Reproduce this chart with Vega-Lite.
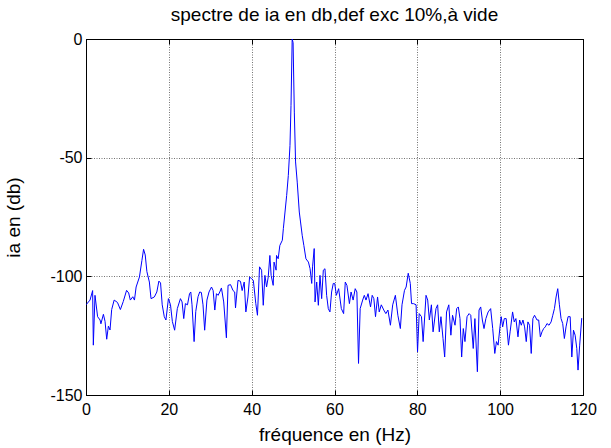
{
  "$schema": "https://vega.github.io/schema/vega-lite/v6.json",
  "autosize": "none",
  "width": 497,
  "height": 356,
  "padding": {"left": 86, "top": 39, "right": 28, "bottom": 53},
  "background": "white",
  "title": {"text": "spectre de ia en db,def exc 10%,à vide", "font": "Liberation Sans", "fontSize": 19, "fontWeight": "normal", "color": "black", "offset": 6},
  "config": {
    "view": {"stroke": "black", "strokeWidth": 1},
    "axis": {"labelFont": "Liberation Sans", "labelFontSize": 16, "labelColor": "black", "titleFont": "Liberation Sans", "titleFontSize": 19, "titleFontWeight": "normal", "titleColor": "black", "domainColor": "black", "tickColor": "black", "gridColor": "#000000", "gridOpacity": 0.55, "gridDash": [1, 1.5], "gridWidth": 1}
  },
  "data": {"values": [
    {"f": 0, "db": -112}, {"f": 0.97, "db": -110}, {"f": 1.6, "db": -106}, {"f": 1.77, "db": -129}, {"f": 2.17, "db": -108}, {"f": 2.8, "db": -117}, {"f": 3.4, "db": -118.4}, {"f": 3.6, "db": -120}, {"f": 4.2, "db": -116}, {"f": 4.6, "db": -119}, {"f": 5.0, "db": -126.5}, {"f": 5.4, "db": -121}, {"f": 5.8, "db": -122.6}, {"f": 6.2, "db": -114}, {"f": 6.8, "db": -110}, {"f": 7.6, "db": -111}, {"f": 8.3, "db": -114}, {"f": 9.0, "db": -110.6}, {"f": 9.8, "db": -105.9}, {"f": 10.3, "db": -107}, {"f": 10.7, "db": -110}, {"f": 11.3, "db": -108.6}, {"f": 11.7, "db": -110}, {"f": 12.1, "db": -104.5}, {"f": 12.9, "db": -100.3}, {"f": 13.5, "db": -93.3}, {"f": 13.9, "db": -88.6}, {"f": 14.3, "db": -91}, {"f": 14.7, "db": -98}, {"f": 15.3, "db": -102.4}, {"f": 15.7, "db": -109.4}, {"f": 16.5, "db": -108.7}, {"f": 17.1, "db": -106.6}, {"f": 17.6, "db": -102}, {"f": 18.0, "db": -102.8}, {"f": 18.4, "db": -112}, {"f": 18.9, "db": -117}, {"f": 19.3, "db": -118.4}, {"f": 19.9, "db": -109.4},
    {"f": 20.4, "db": -112}, {"f": 20.85, "db": -119}, {"f": 21.4, "db": -122.7}, {"f": 22.05, "db": -113.6}, {"f": 22.8, "db": -109.4}, {"f": 23.2, "db": -110.8}, {"f": 23.6, "db": -117.8}, {"f": 24.0, "db": -111.5}, {"f": 24.5, "db": -112}, {"f": 25.0, "db": -107.3}, {"f": 25.3, "db": -106.6}, {"f": 25.6, "db": -112}, {"f": 26.1, "db": -127.5}, {"f": 26.5, "db": -114.8}, {"f": 27.05, "db": -108.6}, {"f": 27.45, "db": -106.6}, {"f": 27.85, "db": -106.8}, {"f": 28.25, "db": -112}, {"f": 28.65, "db": -122.7}, {"f": 29.2, "db": -110}, {"f": 29.7, "db": -106.6}, {"f": 30.3, "db": -104.5}, {"f": 30.7, "db": -106}, {"f": 31.1, "db": -114.2}, {"f": 31.5, "db": -107.3}, {"f": 31.9, "db": -108}, {"f": 32.3, "db": -106.6}, {"f": 32.7, "db": -104.9}, {"f": 33.25, "db": -110.8}, {"f": 33.9, "db": -125.9}, {"f": 34.3, "db": -103.8}, {"f": 34.9, "db": -103.5}, {"f": 35.5, "db": -106}, {"f": 35.9, "db": -106.6}, {"f": 36.1, "db": -113.3}, {"f": 36.7, "db": -101.7}, {"f": 37.3, "db": -102.1}, {"f": 37.7, "db": -106}, {"f": 38.2, "db": -102.4}, {"f": 38.6, "db": -115}, {"f": 39.1, "db": -108.7}, {"f": 39.5, "db": -100.3}, {"f": 40.0, "db": -101},
    {"f": 40.4, "db": -101.7}, {"f": 41.0, "db": -111.5}, {"f": 41.4, "db": -116.4}, {"f": 41.9, "db": -96}, {"f": 42.4, "db": -97.4}, {"f": 42.8, "db": -112.2}, {"f": 43.2, "db": -99.6}, {"f": 43.6, "db": -104.5}, {"f": 44.0, "db": -100.3}, {"f": 44.4, "db": -91.2}, {"f": 44.7, "db": -99.6}, {"f": 45.2, "db": -103.8}, {"f": 45.4, "db": -94}, {"f": 45.9, "db": -97.4}, {"f": 46.0, "db": -91.2}, {"f": 46.4, "db": -92.6}, {"f": 46.8, "db": -87}, {"f": 47.4, "db": -84.8}, {"f": 47.65, "db": -79.9}, {"f": 48.05, "db": -72.9}, {"f": 48.45, "db": -65.9}, {"f": 48.85, "db": -57.5}, {"f": 49.25, "db": -44.9}, {"f": 49.5, "db": -28}, {"f": 49.78, "db": 0}, {"f": 50.0, "db": -1.5}, {"f": 50.3, "db": -30.8}, {"f": 50.6, "db": -51.8}, {"f": 51.0, "db": -60.3}, {"f": 51.5, "db": -72.9}, {"f": 51.8, "db": -77.1}, {"f": 52.2, "db": -82.7}, {"f": 52.6, "db": -87}, {"f": 53.1, "db": -92.6}, {"f": 53.7, "db": -94}, {"f": 54.1, "db": -96.8}, {"f": 54.5, "db": -103}, {"f": 54.7, "db": -96}, {"f": 55.1, "db": -88.3}, {"f": 55.3, "db": -110.8}, {"f": 55.7, "db": -102.4}, {"f": 56.1, "db": -112.2}, {"f": 56.5, "db": -99.6}, {"f": 56.9, "db": -109.4}, {"f": 57.3, "db": -97.4}, {"f": 57.7, "db": -96.8}, {"f": 58.1, "db": -108}, {"f": 58.5, "db": -113.6}, {"f": 58.9, "db": -115}, {"f": 59.3, "db": -106.6}, {"f": 59.7, "db": -103}, {"f": 60.05, "db": -103},
    {"f": 60.45, "db": -108}, {"f": 61.0, "db": -105.2}, {"f": 61.65, "db": -113.6}, {"f": 62.2, "db": -115.7}, {"f": 62.6, "db": -102.4}, {"f": 63.0, "db": -103.8}, {"f": 63.6, "db": -111.5}, {"f": 64.0, "db": -106.6}, {"f": 64.5, "db": -110}, {"f": 65.0, "db": -105.2}, {"f": 65.4, "db": -106.6}, {"f": 65.8, "db": -136.7}, {"f": 66.2, "db": -113.6}, {"f": 66.8, "db": -110}, {"f": 67.2, "db": -108}, {"f": 67.6, "db": -110}, {"f": 68.1, "db": -107.3}, {"f": 68.7, "db": -112.9}, {"f": 69.1, "db": -108}, {"f": 69.5, "db": -109.4}, {"f": 69.9, "db": -117}, {"f": 70.4, "db": -108.7}, {"f": 70.8, "db": -115}, {"f": 71.3, "db": -112}, {"f": 71.9, "db": -114.2}, {"f": 72.4, "db": -115.7}, {"f": 72.9, "db": -114.2}, {"f": 73.5, "db": -120.6}, {"f": 74.05, "db": -112}, {"f": 74.7, "db": -108}, {"f": 75.3, "db": -116.4}, {"f": 75.9, "db": -122}, {"f": 76.3, "db": -112}, {"f": 76.9, "db": -105.9}, {"f": 77.3, "db": -104.5}, {"f": 77.8, "db": -98.7}, {"f": 78.3, "db": -103}, {"f": 78.6, "db": -111.5}, {"f": 79.1, "db": -111.5}, {"f": 79.7, "db": -112},
    {"f": 80.05, "db": -131.8}, {"f": 80.45, "db": -115.7}, {"f": 81.0, "db": -117}, {"f": 81.4, "db": -127.5}, {"f": 82.1, "db": -108}, {"f": 82.5, "db": -110}, {"f": 82.9, "db": -118.4}, {"f": 83.4, "db": -112}, {"f": 83.8, "db": -123.4}, {"f": 84.5, "db": -113.6}, {"f": 84.9, "db": -112}, {"f": 85.3, "db": -123.4}, {"f": 85.7, "db": -117}, {"f": 86.2, "db": -126.2}, {"f": 86.6, "db": -134}, {"f": 87.05, "db": -115}, {"f": 87.6, "db": -112}, {"f": 88.1, "db": -124.8}, {"f": 88.5, "db": -116.4}, {"f": 89.1, "db": -120.6}, {"f": 89.5, "db": -113.6}, {"f": 89.9, "db": -112.9}, {"f": 90.3, "db": -117.8}, {"f": 90.7, "db": -134}, {"f": 91.1, "db": -122}, {"f": 91.5, "db": -127.5}, {"f": 92.0, "db": -117}, {"f": 92.5, "db": -115.7}, {"f": 92.9, "db": -116.4}, {"f": 93.5, "db": -130.4}, {"f": 93.9, "db": -117.8}, {"f": 94.5, "db": -140.2}, {"f": 94.9, "db": -114.2}, {"f": 95.3, "db": -112.9}, {"f": 95.7, "db": -118.4}, {"f": 96.1, "db": -122}, {"f": 96.55, "db": -117.8}, {"f": 97.1, "db": -115}, {"f": 97.7, "db": -113.6}, {"f": 98.2, "db": -122}, {"f": 98.7, "db": -132.5}, {"f": 99.1, "db": -127.5}, {"f": 99.5, "db": -129},
    {"f": 100.0, "db": -120.6}, {"f": 100.25, "db": -117}, {"f": 100.6, "db": -121.3}, {"f": 101.0, "db": -117.8}, {"f": 101.45, "db": -117.8}, {"f": 102.0, "db": -129}, {"f": 102.4, "db": -123.4}, {"f": 103.0, "db": -115}, {"f": 103.4, "db": -119.2}, {"f": 103.8, "db": -117.8}, {"f": 104.3, "db": -125.5}, {"f": 104.7, "db": -118.4}, {"f": 105.1, "db": -120.6}, {"f": 105.5, "db": -118.4}, {"f": 105.9, "db": -121.3}, {"f": 106.3, "db": -127.5}, {"f": 106.7, "db": -119.2}, {"f": 107.1, "db": -120.6}, {"f": 107.5, "db": -132.5}, {"f": 107.9, "db": -117.8}, {"f": 108.3, "db": -116.4}, {"f": 108.9, "db": -118.4}, {"f": 109.3, "db": -118.4}, {"f": 109.7, "db": -125.5}, {"f": 110.1, "db": -123.4}, {"f": 110.5, "db": -122}, {"f": 110.9, "db": -121.3}, {"f": 111.3, "db": -119.9}, {"f": 111.8, "db": -120.6}, {"f": 112.3, "db": -119.2}, {"f": 112.7, "db": -116.4}, {"f": 113.1, "db": -113.6}, {"f": 113.5, "db": -108.7}, {"f": 113.9, "db": -105.2}, {"f": 114.3, "db": -112}, {"f": 114.7, "db": -117.8}, {"f": 115.1, "db": -119.9}, {"f": 115.5, "db": -126.2}, {"f": 115.9, "db": -121.3}, {"f": 116.4, "db": -117}, {"f": 116.9, "db": -117}, {"f": 117.3, "db": -134}, {"f": 117.7, "db": -122.7}, {"f": 118.1, "db": -124.8}, {"f": 118.5, "db": -130.4}, {"f": 118.8, "db": -139.5}, {"f": 119.2, "db": -129}, {"f": 119.7, "db": -117.6}
  ]},
  "layer": [
    {
      "mark": {"type": "line", "color": "#0000ff", "strokeWidth": 1, "clip": true},
      "encoding": {
        "x": {"field": "f", "type": "quantitative", "scale": {"domain": [0, 120], "nice": false, "zero": false},
          "axis": {"orient": "bottom", "values": [0, 20, 40, 60, 80, 100, 120], "title": "fréquence en (Hz)", "titlePadding": 8, "grid": true, "tickSize": -5, "labelPadding": 11, "labelFlush": false, "labelExpr": "datum.value + ''"}},
        "y": {"field": "db", "type": "quantitative", "scale": {"domain": [-150, 0], "nice": false, "zero": false},
          "axis": {"orient": "left", "values": [-150, -100, -50, 0], "title": "ia en (db)", "titlePadding": 26, "grid": true, "tickSize": -5, "labelPadding": 9, "labelFlush": false, "labelExpr": "datum.value + ''"}}
      }
    },
    {
      "mark": {"type": "line", "opacity": 0},
      "encoding": {
        "x": {"field": "f", "type": "quantitative", "scale": {"domain": [0, 120], "nice": false, "zero": false},
          "axis": {"orient": "top", "values": [0, 20, 40, 60, 80, 100, 120], "title": null, "labels": false, "grid": false, "tickSize": -5}},
        "y": {"field": "db", "type": "quantitative", "scale": {"domain": [-150, 0], "nice": false, "zero": false},
          "axis": {"orient": "right", "values": [-150, -100, -50, 0], "title": null, "labels": false, "grid": false, "tickSize": -5}}
      }
    }
  ],
  "resolve": {"axis": {"x": "independent", "y": "independent"}}
}
